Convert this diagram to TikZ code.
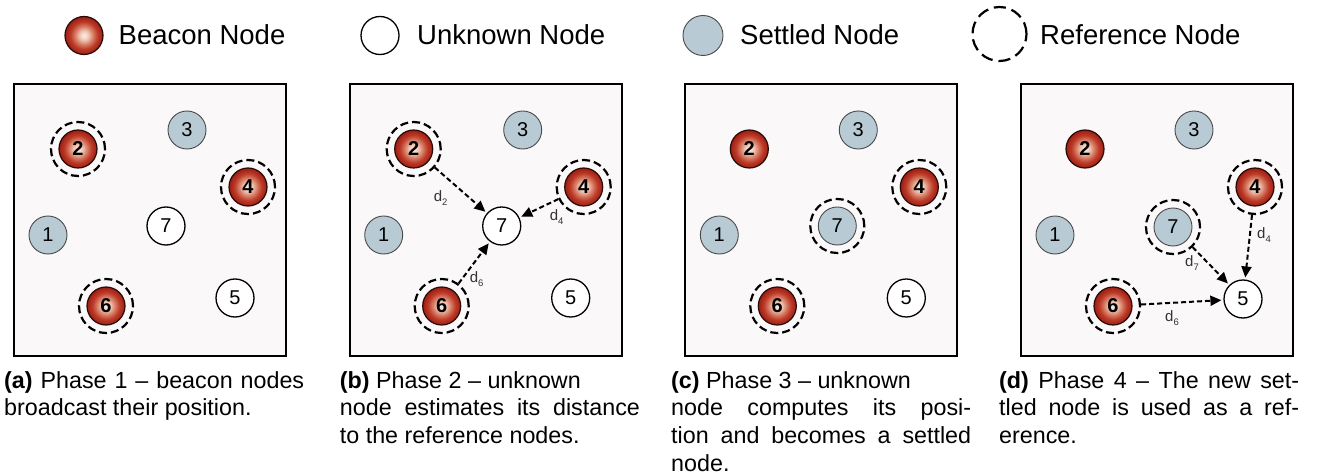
\documentclass[tikz,border=0pt]{standalone}
\usepackage{fontspec}
\setmainfont{Liberation Sans}
\usetikzlibrary{arrows.meta}

\definecolor{panelfill}{HTML}{FAF8F9}
\definecolor{settledfill}{HTML}{B8CAD4}
\definecolor{settledline}{HTML}{4A4A4A}
\definecolor{beaconline}{HTML}{2A0A06}
\definecolor{beaconcore}{HTML}{FBF0EA}
\definecolor{beaconpale}{HTML}{F0C6B4}
\definecolor{beaconmid}{HTML}{D77B63}
\definecolor{beaconred}{HTML}{BC3A28}
\definecolor{beacondark}{HTML}{9C1D12}
\definecolor{disttext}{HTML}{333333}

% glowing red disc used for beacon nodes
\pgfdeclareradialshading{beaconshade}{\pgfpoint{0bp}{0bp}}{%
  color(0bp)=(beaconcore); color(6bp)=(beaconpale); color(12bp)=(beaconmid);
  color(18bp)=(beaconred); color(25bp)=(beacondark); color(50bp)=(beacondark)}

\newcommand{\dsub}[1]{d\raisebox{-3.5pt}{\fontsize{9.5}{9.5}\selectfont #1}}
\newcommand{\jline}[1]{\makebox[300pt][s]{#1}}

\tikzset{
  panel/.style={draw=black, line width=2.2pt, fill=panelfill},
  numfont/.style={font=\fontsize{20}{20}\selectfont},
  beacon/.style={circle, minimum size=38pt, inner sep=0pt, shading=beaconshade,
    draw=beaconline, line width=1.2pt, font=\fontsize{20}{20}\selectfont\bfseries},
  settled/.style={circle, minimum size=38pt, inner sep=0pt, fill=settledfill,
    draw=settledline, line width=0.9pt, numfont},
  unknown/.style={circle, minimum size=38pt, inner sep=0pt, fill=white,
    draw=black, line width=1.3pt, numfont},
  refring/.style={circle, minimum size=54pt, inner sep=0pt, draw=black,
    line width=2.2pt, dash pattern=on 8pt off 4pt},
  legendring/.style={circle, minimum size=54pt, inner sep=0pt, draw=black,
    line width=2.2pt, dash pattern=on 12pt off 6pt},
  distarrow/.style={draw=black, line width=2pt, dash pattern=on 5pt off 3pt,
    -{Triangle[length=11pt,width=10pt]}, shorten >=2pt},
  dist/.style={inner sep=0pt, text=disttext, font=\fontsize{15}{15}\selectfont},
  legendtext/.style={anchor=base west, inner sep=0pt, font=\fontsize{27.5}{27.5}\selectfont},
  caption/.style={anchor=north west, inner sep=0pt, align=left,
    font=\fontsize{23.3}{27.8}\selectfont},
}

\begin{document}
\begin{tikzpicture}[x=1pt, y=-1pt]
\useasboundingbox (0,0) rectangle (1317,476);

% ---------- legend ----------
\node[beacon]  (lgb) at (84,35.5) {};
\node[legendtext] (lgbt) at (118.5,44.3) {Beacon Node};
\node[unknown] (lgu) at (380,35.5) {};
\node[legendtext] (lgut) at (417,44.3) {Unknown Node};
\node[settled, minimum size=40pt] (lgs) at (703,35.5) {};
\node[legendtext] (lgst) at (740,44.3) {Settled Node};
\node[legendring] (lgr) at (999.5,34) {};
\node[legendtext] (lgrt) at (1040,44.3) {Reference Node};

% ---------- (a) phase 1 ----------
\begin{scope}[shift={(14,84)}]
  \draw[panel] (0,0) rectangle (272,272);
  \node[settled] (a1) at (34,151) {1};
  \node[beacon]  (a2) at (64,65) {2};
  \node[settled] (a3) at (173,46) {3};
  \node[beacon]  (a4) at (234,103) {4};
  \node[unknown] (a5) at (221,214) {5};
  \node[beacon]  (a6) at (92,222) {6};
  \node[unknown] (a7) at (152,142) {7};
  \node[refring] (a2r) at (a2) {};
  \node[refring] (a4r) at (a4) {};
  \node[refring] (a6r) at (a6) {};
\end{scope}

% ---------- (b) phase 2 ----------
\begin{scope}[shift={(349.7,84)}]
  \draw[panel] (0,0) rectangle (272,272);
  \node[settled] (b1) at (34,151) {1};
  \node[beacon]  (b2) at (64,65) {2};
  \node[settled] (b3) at (173,46) {3};
  \node[beacon]  (b4) at (234,103) {4};
  \node[unknown] (b5) at (221,214) {5};
  \node[beacon]  (b6) at (92,222) {6};
  \node[unknown] (b7) at (152,142) {7};
  \node[refring] (b2r) at (b2) {};
  \node[refring] (b4r) at (b4) {};
  \node[refring] (b6r) at (b6) {};
  \draw[distarrow] (b2r) -- (b7);
  \draw[distarrow] (b4r) -- (b7);
  \draw[distarrow] (b6r) -- (b7);
  \node[dist] (bd2) at (91,114) {\dsub{2}};
  \node[dist] (bd4) at (207,133) {\dsub{4}};
  \node[dist] (bd6) at (127,195) {\dsub{6}};
\end{scope}

% ---------- (c) phase 3 ----------
\begin{scope}[shift={(685.3,84)}]
  \draw[panel] (0,0) rectangle (272,272);
  \node[settled] (c1) at (34,151) {1};
  \node[beacon]  (c2) at (64,65) {2};
  \node[settled] (c3) at (173,46) {3};
  \node[beacon]  (c4) at (234,103) {4};
  \node[unknown] (c5) at (221,214) {5};
  \node[beacon]  (c6) at (92,222) {6};
  \node[settled] (c7) at (152,142) {7};
  \node[refring] (c4r) at (c4) {};
  \node[refring] (c6r) at (c6) {};
  \node[refring] (c7r) at (c7) {};
\end{scope}

% ---------- (d) phase 4 ----------
\begin{scope}[shift={(1021,84)}]
  \draw[panel] (0,0) rectangle (272,272);
  \node[settled] (d1) at (34,151) {1};
  \node[beacon]  (d2) at (64,65) {2};
  \node[settled] (d3) at (173,46) {3};
  \node[beacon]  (d4) at (234,103) {4};
  \node[unknown] (d5) at (222,215) {5};
  \node[beacon]  (d6) at (92,222) {6};
  \node[settled] (d7) at (152,143) {7};
  \node[refring] (d4r) at (d4) {};
  \node[refring] (d6r) at (d6) {};
  \node[refring] (d7r) at (d7) {};
  \draw[distarrow] (d7r) -- (d5);
  \draw[distarrow] (d4r) -- (d5);
  \draw[distarrow] (d6r) -- (d5);
  \node[dist] (dd4) at (243,151) {\dsub{4}};
  \node[dist] (dd7) at (171,179) {\dsub{7}};
  \node[dist] (dd6) at (151,234) {\dsub{6}};
\end{scope}

% ---------- captions ----------
\node[caption] (capa) at (4,371) {%
  \jline{\textbf{(a)} Phase 1 -- beacon nodes}\\
  broadcast their position.};
\node[caption] (capb) at (339.7,371) {%
  \textbf{(b)} Phase 2 -- unknown\\
  \jline{node estimates its distance}\\
  to the reference nodes.};
\node[caption] (capc) at (671,371) {%
  \textbf{(c)} Phase 3 -- unknown\\
  \jline{node computes its posi-}\\
  \jline{tion and becomes a settled}\\
  node.};
\node[caption] (capd) at (999,371) {%
  \jline{\textbf{(d)} Phase 4 -- The new set-}\\
  \jline{tled node is used as a ref-}\\
  erence.};
\end{tikzpicture}
\end{document}
